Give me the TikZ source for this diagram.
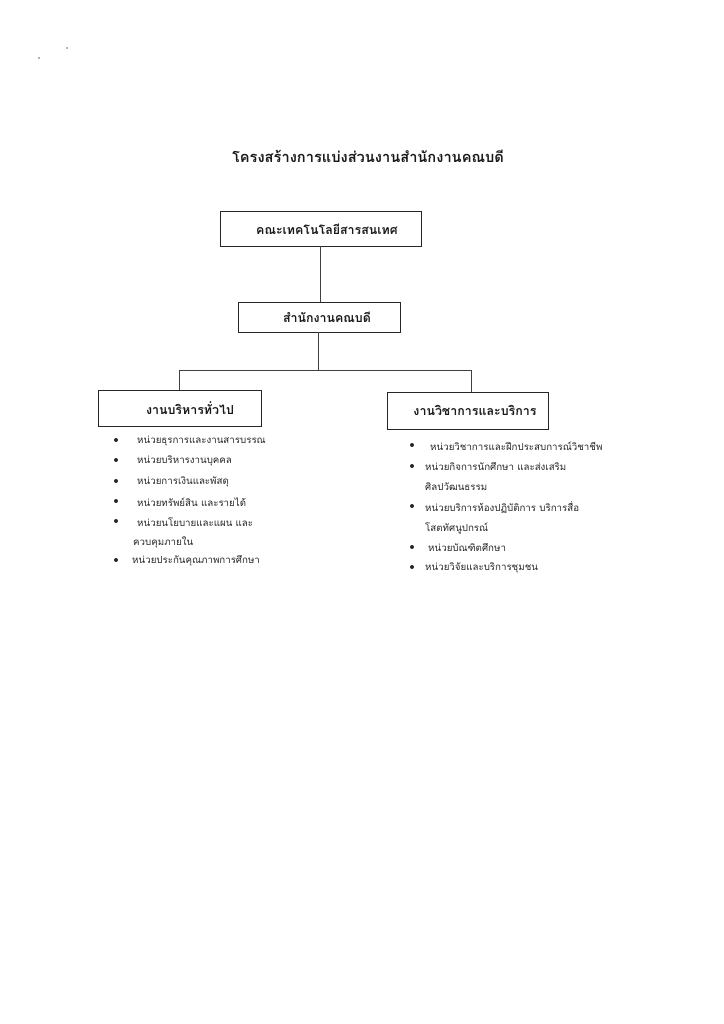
\documentclass[tikz,border=0pt]{standalone}
\usepackage{fontspec}
\newfontfamily\thai[Script=Thai]{Loma}
\tikzset{
  box/.style={draw=black!85, line width=0.7pt, minimum height=#1, inner sep=0pt},
  conn/.style={draw=black!75, line width=0.6pt},
  item/.style={anchor=west, inner sep=0pt, font=\thai\fontsize{8.3}{10}\selectfont, text=black!85},
  bul/.style={circle, fill=black!85, inner sep=0pt, minimum size=3.4pt},
  boxtxt/.style={font=\thai\bfseries\fontsize{10.6}{12}\selectfont, text=black!90}
}
\begin{document}
\begin{tikzpicture}[x=0.03cm,y=-0.03cm]
\useasboundingbox (0,0) rectangle (724,1024);
% scan specks
\fill[black!60] (39,58) circle (0.7pt);
\fill[black!60] (67,48) circle (0.7pt);
% title
\node[font=\thai\bfseries\fontsize{12.5}{14}\selectfont, text=black!90] (title) at (368,156) {โครงสร้างการแบ่งส่วนงานสำนักงานคณบดี};
% boxes
\node[box=1.05cm, minimum width=201*0.03cm] (fac) at (320.5,228.5) {};
\node[boxtxt, anchor=center] (factxt) at (327,229) {คณะเทคโนโลยีสารสนเทศ};
\node[box=0.9cm, minimum width=162*0.03cm] (off) at (319,317) {};
\node[boxtxt] (offtxt) at (327,317) {สำนักงานคณบดี};
\node[box=1.08cm, minimum width=163*0.03cm] (adm) at (179.5,408) {};
\node[boxtxt] (admtxt) at (190,408) {งานบริหารทั่วไป};
\node[box=1.11cm, minimum width=161*0.03cm] (aca) at (467.5,410.5) {};
\node[boxtxt] (acatxt) at (475,410.5) {งานวิชาการและบริการ};
% connectors
\coordinate (j) at (318,370);
\coordinate (jl) at (179,370);
\coordinate (jr) at (471,370);
\draw[conn] (fac.south) -- (fac.south |- off.north);
\draw[conn] (off.south -| j) -- (j);
\draw[conn] (jl) -- (jr);
\draw[conn] (jl) -- (jl |- adm.north);
\draw[conn] (jr) -- (jr |- aca.north);
% left list
\node[bul] (lb1) at (116,440) {};
\node[item] (l1) at (137,441) {หน่วยธุรการและงานสารบรรณ};
\node[bul] (lb2) at (116,460) {};
\node[item] (l2) at (137,461) {หน่วยบริหารงานบุคคล};
\node[bul] (lb3) at (116,481) {};
\node[item] (l3) at (137,482) {หน่วยการเงินและพัสดุ};
\node[bul] (lb4) at (116,501) {};
\node[item] (l4) at (137,502) {หน่วยทรัพย์สิน และรายได้};
\node[bul] (lb5) at (116,521) {};
\node[item] (l5) at (137,522) {หน่วยนโยบายและแผน และ};
\node[item] (l5b) at (133,542) {ควบคุมภายใน};
\node[bul] (lb6) at (116,560) {};
\node[item] (l6) at (132,561) {หน่วยประกันคุณภาพการศึกษา};
% right list
\node[bul] (rb1) at (412,445) {};
\node[item] (r1) at (430,446) {หน่วยวิชาการและฝึกประสบการณ์วิชาชีพ};
\node[bul] (rb2) at (412,466) {};
\node[item] (r2) at (425,467) {หน่วยกิจการนักศึกษา และส่งเสริม};
\node[item] (r2b) at (425,487) {ศิลปวัฒนธรรม};
\node[bul] (rb3) at (412,506) {};
\node[item] (r3) at (425,507) {หน่วยบริการห้องปฏิบัติการ บริการสื่อ};
\node[item] (r3b) at (425,528) {โสตทัศนูปกรณ์};
\node[bul] (rb4) at (412,547) {};
\node[item] (r4) at (428,548) {หน่วยบัณฑิตศึกษา};
\node[bul] (rb5) at (412,567) {};
\node[item] (r5) at (425,568) {หน่วยวิจัยและบริการชุมชน};
\end{tikzpicture}
\end{document}
